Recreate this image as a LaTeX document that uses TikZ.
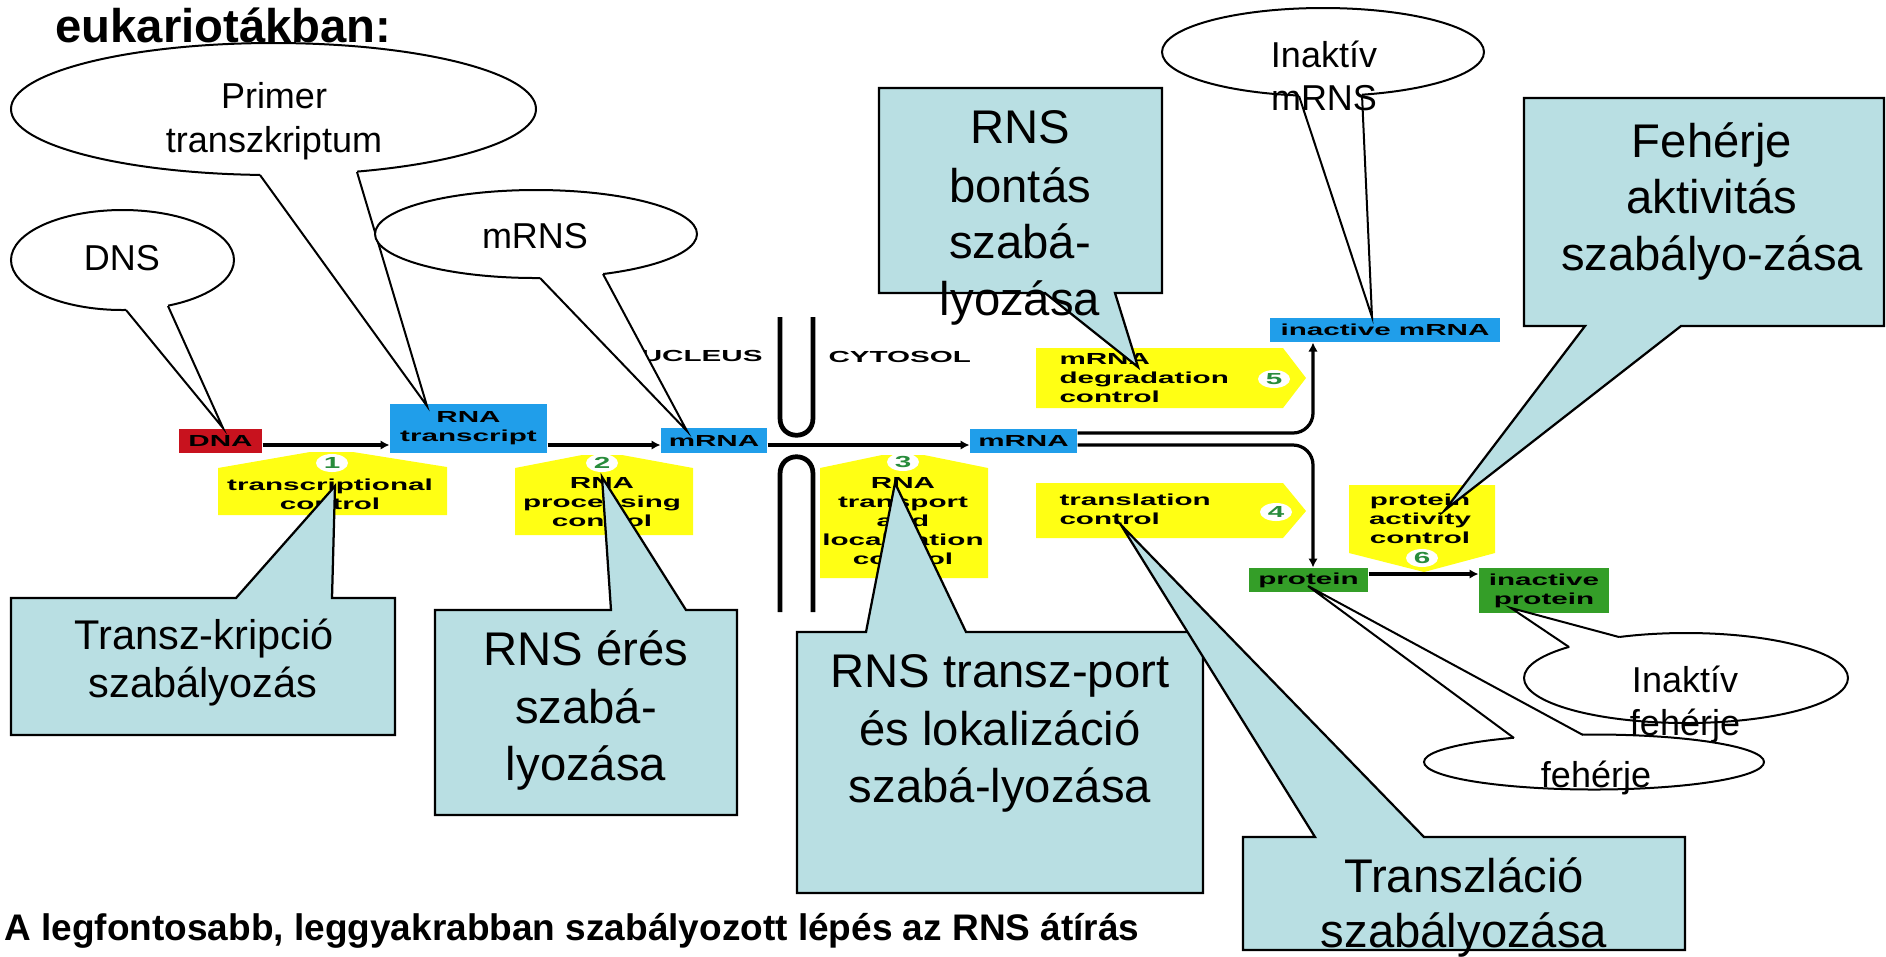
\documentclass[tikz,border=0pt]{standalone}
\usepackage{fontspec}
\setmainfont{Liberation Sans}
\newfontfamily\figfont{Liberation Sans}[FakeStretch=1.85]
\usetikzlibrary{arrows.meta}
\definecolor{cb}{RGB}{185,223,227}
\definecolor{yel}{RGB}{255,255,20}
\definecolor{blu}{RGB}{32,158,234}
\definecolor{dred}{RGB}{200,18,30}
\definecolor{grn}{RGB}{52,158,40}
\definecolor{ngrn}{RGB}{40,140,60}
\begin{document}
\begin{tikzpicture}[x=0.4pt,y=-0.4pt,
  cbox/.style={draw=black,line width=0.9pt,fill=cb,line join=miter},
  ebub/.style={draw=black,line width=0.8pt,fill=white},
  tl/.style={draw=black,line width=0.8pt},
  lbl/.style={inner sep=0pt,anchor=base},
  bigt/.style={lbl,font=\fontsize{18.9}{22}\selectfont},
  midt/.style={lbl,font=\fontsize{16.6}{19}\selectfont},
  elt/.style={lbl,font=\fontsize{14.4}{17}\selectfont},
  ft/.style={inner sep=0pt,font=\figfont\bfseries\fontsize{6.4}{7.6}\selectfont},
  num/.style={ft,text=ngrn},
  fbox/.style={ft,draw=none},
  flow/.style={line width=1.3pt,-{Latex[length=3.6pt,width=3.8pt]}},
  pore/.style={line width=1.9pt},
  yb/.style={fill=yel}]
\useasboundingbox (0,0) rectangle (1886,956);

% ---------------- central figure ----------------
\coordinate (ax) at (0,445);
\coordinate (up) at (0,433);
\coordinate (pr) at (0,574);
\coordinate (jx) at (1313,0);

% yellow control shapes
\fill[yb] (218,468) -- (310,452) -- (353,452) -- (447,467) -- (447,515) -- (218,515) -- cycle;
\fill[yb] (515,468) -- (582,455) -- (622,455) -- (693,468) -- (693,535) -- (515,535) -- cycle;
\fill[yb] (820,468) -- (882,455) -- (924,455) -- (988,468) -- (988,578) -- (820,578) -- cycle;
\fill[yb] (1036,348) -- (1283,348) -- (1306,378) -- (1283,408) -- (1036,408) -- cycle;
\fill[yb] (1036,483) -- (1283,483) -- (1306,511) -- (1283,538) -- (1036,538) -- cycle;
\fill[yb] (1349,485) -- (1495,485) -- (1495,553) -- (1424,572) -- (1349,553) -- cycle;
\foreach \cx/\cy in {332/463,602/463,903/462,1274/379,1276/512,1422/558}
  \fill[white] (\cx,\cy) ellipse [x radius=16, y radius=9];

\node[num] (n1) at (332,463) {1};
\node[num] (n2) at (602,463) {2};
\node[num] (n3) at (903,462) {3};
\node[num] (n5) at (1274,379) {5};
\node[num] (n4) at (1276,512) {4};
\node[num] (n6) at (1422,558) {6};

\node[ft,align=center] (c1) at (330,494) {transcriptional\\control};
\node[ft,align=center] (c2) at (602,502) {RNA\\processing\\control};
\node[ft,align=center] (c3) at (903,521) {RNA\\transport\\and\\localization\\control};
\node[ft,align=left,anchor=west] (c5) at (1059,378) {mRNA\\degradation\\control};
\node[ft,align=left,anchor=west] (c4) at (1059,509) {translation\\control};
\node[ft,align=center] (c6) at (1420,519) {protein\\activity\\control};

\node[ft,anchor=east] (nuc) at (763,356) {NUCLEUS};
\node[ft,anchor=west] (cyt) at (828,357) {CYTOSOL};

% boxes
\node[fbox,fill=dred,minimum width=33.2pt,minimum height=9.6pt] (dna) at (220.5,441) {DNA};
\node[fbox,fill=blu,minimum width=62.8pt,minimum height=19.6pt,align=center] (rt) at (468.5,428.5) {RNA\\transcript};
\node[fbox,fill=blu,minimum width=42.4pt,minimum height=10pt] (mr1) at (714,440.5) {mRNA};
\node[fbox,fill=blu,minimum width=42.8pt,minimum height=9.6pt] (mr2) at (1023.5,441) {mRNA};
\node[fbox,fill=blu,minimum width=92pt,minimum height=9.6pt] (ina) at (1385,330) {inactive mRNA};
\node[fbox,fill=grn,minimum width=47.6pt,minimum height=9.6pt] (prot) at (1308.5,580) {protein};
\node[fbox,fill=grn,minimum width=52pt,minimum height=18pt,align=center] (iprot) at (1544,590.5) {inactive\\protein};

% nuclear pore
\draw[pore] (780,317) -- (780,418) .. controls (780,441) and (813,441) .. (813,418) -- (813,317);
\draw[pore] (780,612) -- (780,474) .. controls (780,451) and (813,451) .. (813,474) -- (813,612);

% flow
\draw[flow] (dna.east |- ax) -- (rt.west |- ax);
\draw[flow] (rt.east |- ax) -- (mr1.west |- ax);
\draw[flow] (mr1.east |- ax) -- (mr2.west |- ax);
\draw[flow,rounded corners=8pt] (mr2.east |- up) -- (jx |- up) -- (jx |- ina.south);
\draw[flow,rounded corners=8pt] (mr2.east |- ax) -- (jx |- ax) -- (jx |- prot.north);
\draw[flow] (prot.east |- pr) -- (iprot.west |- pr);

% ---------------- callout tips ----------------
\coordinate (tp1) at (335,486);
\coordinate (tp2) at (602,477);
\coordinate (tp3) at (895,483);
\coordinate (tp4) at (1138,367);
\coordinate (tp5) at (1445,510);
\coordinate (tp6) at (1121,525);
\coordinate (te1) at (427,406);
\coordinate (te2) at (223,428);
\coordinate (te3) at (687,431);
\coordinate (te4) at (1372,317);
\coordinate (te5) at (1511,608);
\coordinate (te6) at (1308,586);

% ---------------- ellipse callouts ----------------
\draw[ebub] (273.5,109) ellipse [x radius=262.5, y radius=66];
\fill[white] (260,169) -- (260,175) -- (te1) -- (357,172) -- (356,166) -- cycle;
\draw[tl] (260,175) -- (te1) -- (357,172);
\node[elt] (e1a) at (274,108) {Primer};
\node[elt] (e1b) at (274,152) {transzkriptum};

\draw[ebub] (122.5,260) ellipse [x radius=111.5, y radius=50];
\fill[white] (126,304) -- (126,310) -- (te2) -- (168,306) -- (167,300) -- cycle;
\draw[tl] (126,310) -- (te2) -- (168,306);
\node[elt] (e2) at (122,270) {DNS};

\draw[ebub] (536,234) ellipse [x radius=161, y radius=44];
\fill[white] (540,272) -- (540,278) -- (te3) -- (603,274) -- (602,268) -- cycle;
\draw[tl] (540,278) -- (te3) -- (603,274);
\node[elt] (e3) at (535,248) {mRNS};

\draw[ebub] (1323,52) ellipse [x radius=161, y radius=44];
\fill[white] (1299,90) -- (1299,96) -- (te4) -- (1362,95) -- (1361,89) -- cycle;
\draw[tl] (1299,96) -- (te4) -- (1362,95);
\node[elt] (e4a) at (1324,67) {Inaktív};
\node[elt] (e4b) at (1324,110) {mRNS};

\draw[ebub] (1594,762) ellipse [x radius=170, y radius=27.5];
\fill[white] (1515,743) -- (1514,738) -- (te6) -- (1583,735) -- (1583,741) -- cycle;
\draw[tl] (1514,738) -- (te6) -- (1583,735);
\node[elt] (e6) at (1596,787) {fehérje};

\draw[ebub] (1686,678) ellipse [x radius=162, y radius=45];
\fill[white] (1573,651) -- (1569,647) -- (te5) -- (1619,637) -- (1621,642) -- cycle;
\draw[tl] (1569,647) -- (te5) -- (1619,637);
\node[elt] (e5a) at (1685,692) {Inaktív};
\node[elt] (e5b) at (1685,735) {fehérje};

% ---------------- box callouts ----------------
\draw[cbox] (11,598) -- (236,598) -- (tp1) -- (332,598) -- (395,598) -- (395,735) -- (11,735) -- cycle;
\node[midt] (b1a) at (204,649) {Transz-kripció};
\node[midt] (b1b) at (203,697) {szabályozás};

\draw[cbox] (435,610) -- (611,610) -- (tp2) -- (686,610) -- (737,610) -- (737,815) -- (435,815) -- cycle;
\node[bigt] (b2a) at (586,665) {RNS érés};
\node[bigt] (b2b) at (586,723) {szabá-};
\node[bigt] (b2c) at (586,780) {lyozása};

\draw[cbox] (797,632) -- (866,632) -- (tp3) -- (966,632) -- (1203,632) -- (1203,893) -- (797,893) -- cycle;
\node[bigt] (b3a) at (1000,687) {RNS transz-port};
\node[bigt] (b3b) at (1000,745) {és lokalizáció};
\node[bigt] (b3c) at (1000,802) {szabá-lyozása};

\draw[cbox] (879,88) -- (1162,88) -- (1162,293) -- (1115,293) -- (tp4) -- (1045,293) -- (879,293) -- cycle;
\node[bigt] (b4a) at (1020,143) {RNS};
\node[bigt] (b4b) at (1020,202) {bontás};
\node[bigt] (b4c) at (1020,258) {szabá-};
\node[bigt] (b4d) at (1020,315) {lyozása};

\draw[cbox] (1524,98) -- (1884,98) -- (1884,326) -- (1681,326) -- (tp5) -- (1585,326) -- (1524,326) -- cycle;
\node[bigt] (b5a) at (1712,157) {Fehérje};
\node[bigt] (b5b) at (1712,213) {aktivitás};
\node[bigt] (b5c) at (1712,270) {szabályo-zása};

\draw[cbox] (1243,837) -- (1315,837) -- (tp6) -- (1424,837) -- (1685,837) -- (1685,950) -- (1243,950) -- cycle;
\node[bigt] (b6a) at (1464,892) {Transzláció};
\node[bigt] (b6b) at (1464,947) {szabályozása};

% ---------------- titles ----------------
\node[lbl,anchor=base west,font=\bfseries\fontsize{18.9}{22}\selectfont] (title) at (55,42) {eukariotákban:};
\node[lbl,anchor=base west,font=\bfseries\fontsize{14.8}{18}\selectfont] (foot) at (4,940) {A legfontosabb, leggyakrabban szabályozott lépés az RNS átírás};
\end{tikzpicture}
\end{document}
